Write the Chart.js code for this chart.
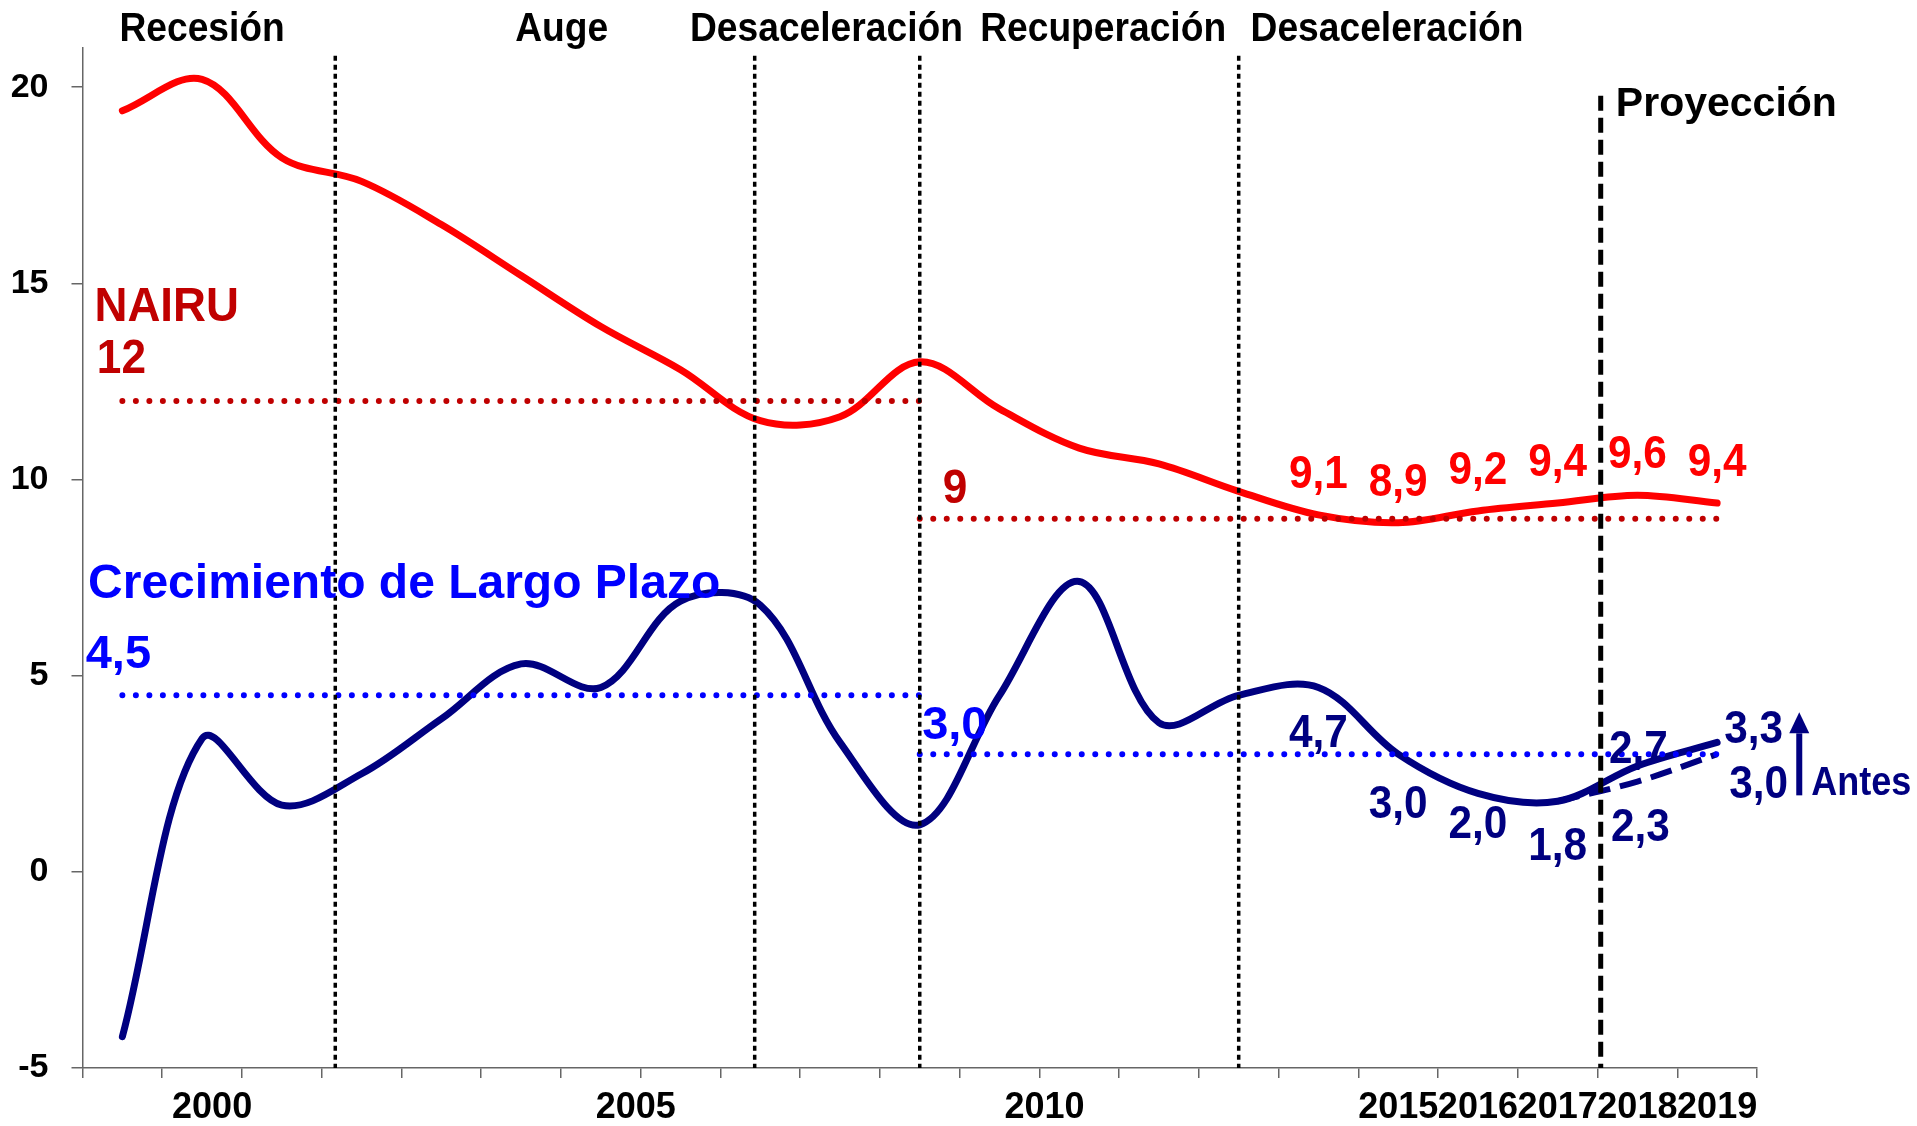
<!DOCTYPE html>
<html>
<head>
<meta charset="utf-8">
<script src="https://cdn.jsdelivr.net/npm/chart.js@4/dist/chart.umd.min.js"></script>
<style>
  html, body { margin: 0; padding: 0; background: #fff; }
  #wrap { width: 1917px; height: 1126px; position: relative; }
</style>
</head>
<body>
<div id="wrap"><canvas id="chart"></canvas></div>
<script>
// Data
const years = ['1999','2000','2001','2002','2003','2004','2005','2006','2007','2008','2009',
               '2010','2011','2012','2013','2014','2015','2016','2017','2018','2019'];
const shownYears = ['2000','2005','2010','2015','2016','2017','2018','2019'];
const nairu  = [19.4, 20.2, 18.2, 17.6, 16.5, 15.2, 13.9, 12.8, 11.5, 11.6, 13.0,
                11.8, 10.8, 10.4, 9.7, 9.1, 8.9, 9.2, 9.4, 9.6, 9.4];
const growth = [-4.2, 3.4, 1.7, 2.5, 3.9, 5.3, 4.7, 6.9, 6.8, 3.3, 1.2,
                4.5, 7.4, 3.8, 4.5, 4.7, 3.0, 2.0, 1.8, 2.7, 3.3];
const beforeYears = ['2017', '2018', '2019'];
const growthBefore = [1.8, 2.3, 3.0];
// period averages: [from, to, value]
const nairuAvg  = [['1999', '2009', 12], ['2009', '2019', 9]];
const growthAvg = [['1999', '2009', 4.5], ['2009', '2019', 3.0]];
const yTicks = [-5, 0, 5, 10, 15, 20];
const labeledFrom = 15; // data labels from 2014 on

// Annotations (layout, in year / value units)
const phases = [['Recesión', 2000.0], ['Auge', 2004.51], ['Desaceleración', 2007.83],
                ['Recuperación', 2011.30], ['Desaceleración', 2014.86]];
const phaseBreaks = [2001.67, 2006.93, 2009.0, 2013.0];
const projectionAt = 2017.54;

const FONT = "'Liberation Sans', Arial, sans-serif";
const RED = '#FF0000', DARKRED = '#C00000', BLUE = '#0000FF', NAVY = '#000080';

// extra leading spaces to nudge some year labels like the original
const tickPad = { '2000': 2, '2005': 7, '2010': 9 };

// label offsets relative to the point (dx, baseline dy, align)
const nairuLabelPos = { dx: 0, dy: -27, align: 'center' };
const growthLabelPos = [
  { dx: 0, dy: 60, align: 'center' },
  { dx: 0, dy: 64, align: 'center' },
  { dx: 0, dy: 45, align: 'center' },
  { dx: 0, dy: 59, align: 'center' },
  { dx: 1, dy: -3, align: 'center' },
  { dx: 7, dy: 1, align: 'left' }
];
const beforeLabelPos = [null, { dx: 3, dy: 59, align: 'center' }, { dx: 12, dy: 44, align: 'left' }];

function fmt(v) { return v.toFixed(1).replace('.', ','); }

function avgDataset(seg, color) {
  return {
    data: [{ x: seg[0], y: seg[2] }, { x: seg[1], y: seg[2] }],
    borderColor: color,
    borderWidth: 6,
    borderDash: [0, 13.5],
    borderCapStyle: 'round',
    pointRadius: 0,
    tension: 0
  };
}

const overlay = {
  id: 'overlay',
  afterDatasetsDraw(chart) {
    const { ctx, scales: { x, y } } = chart;
    const px = yr => x.getPixelForValue(yr - 1999);
    ctx.save();

    // phase separators
    ctx.strokeStyle = '#000';
    ctx.lineWidth = 3.5;
    ctx.setLineDash([5, 4]);
    phaseBreaks.forEach(b => {
      ctx.beginPath();
      ctx.moveTo(px(b), y.getPixelForValue(20.8));
      ctx.lineTo(px(b), y.bottom);
      ctx.stroke();
    });
    // projection line
    ctx.lineWidth = 5;
    ctx.setLineDash([15, 7]);
    ctx.beginPath();
    ctx.moveTo(px(projectionAt), y.getPixelForValue(19.78));
    ctx.lineTo(px(projectionAt), y.bottom);
    ctx.stroke();
    ctx.setLineDash([]);

    // bold text, optionally squeezed horizontally (sx)
    const text = (s, xx, yy, color, size, align, sx) => {
      ctx.save();
      ctx.font = 'bold ' + size + 'px ' + FONT;
      ctx.fillStyle = color;
      ctx.textAlign = align || 'left';
      ctx.textBaseline = 'alphabetic';
      ctx.translate(xx, yy);
      ctx.scale(sx || 1, 1);
      ctx.fillText(s, 0, 0);
      ctx.restore();
    };

    // phase titles
    phases.forEach(p => text(p[0], px(p[1]), y.getPixelForValue(21.18), '#000', 40, 'center', 0.93));
    text('Proyección', px(2017.73), y.getPixelForValue(19.27), '#000', 41);

    // series titles and averages
    text('NAIRU', px(1998.65), y.getPixelForValue(14.05), DARKRED, 48, 'left', 0.95);
    text('12', px(1998.68), y.getPixelForValue(12.72), DARKRED, 48, 'left', 0.92);
    text('9', px(2009.29), y.getPixelForValue(9.41), DARKRED, 48, 'left', 0.92);
    text('Crecimiento de Largo Plazo', px(1998.57), y.getPixelForValue(6.97), BLUE, 48);
    text('4,5', px(1998.54), y.getPixelForValue(5.19), BLUE, 47);
    text('3,0', px(2009.03), y.getPixelForValue(3.38), BLUE, 47);

    // data labels
    const nMeta = chart.getDatasetMeta(5).data;
    for (let i = labeledFrom; i < nairu.length; i++) {
      const p = nMeta[i];
      text(fmt(nairu[i]), p.x + nairuLabelPos.dx, p.y + nairuLabelPos.dy, RED, 46, nairuLabelPos.align, 0.92);
    }
    const gMeta = chart.getDatasetMeta(6).data;
    for (let i = labeledFrom; i < growth.length; i++) {
      const p = gMeta[i], o = growthLabelPos[i - labeledFrom];
      text(fmt(growth[i]), p.x + o.dx, p.y + o.dy, NAVY, 46, o.align, 0.92);
    }
    const bMeta = chart.getDatasetMeta(4).data;
    growthBefore.forEach((v, i) => {
      const o = beforeLabelPos[i];
      if (!o) return;
      text(fmt(v), bMeta[i].x + o.dx, bMeta[i].y + o.dy, NAVY, 46, o.align, 0.92);
    });

    // "Antes" arrow
    const ax = px(2020.03);
    ctx.strokeStyle = NAVY;
    ctx.fillStyle = NAVY;
    ctx.lineWidth = 6;
    ctx.beginPath();
    ctx.moveTo(ax, y.getPixelForValue(1.95));
    ctx.lineTo(ax, y.getPixelForValue(3.53));
    ctx.stroke();
    ctx.beginPath();
    ctx.moveTo(ax - 10, y.getPixelForValue(3.53));
    ctx.lineTo(ax + 10, y.getPixelForValue(3.53));
    ctx.lineTo(ax, y.getPixelForValue(4.07));
    ctx.closePath();
    ctx.fill();
    text('Antes', px(2020.18), y.getPixelForValue(1.95), NAVY, 40, 'left', 0.9);

    ctx.restore();
  }
};

new Chart(document.getElementById('chart'), {
  type: 'line',
  data: {
    labels: years,
    datasets: [
      avgDataset(nairuAvg[0], DARKRED),
      avgDataset(nairuAvg[1], DARKRED),
      avgDataset(growthAvg[0], BLUE),
      avgDataset(growthAvg[1], BLUE),
      {
        data: beforeYears.map((yr, i) => ({ x: yr, y: growthBefore[i] })),
        borderColor: NAVY,
        borderWidth: 6,
        borderDash: [22, 10],
        pointRadius: 0,
        tension: 0.35
      },
      {
        data: nairu,
        borderColor: RED,
        borderWidth: 7,
        borderCapStyle: 'round',
        pointRadius: 0,
        tension: 0.35
      },
      {
        data: growth,
        borderColor: NAVY,
        borderWidth: 7,
        borderCapStyle: 'round',
        pointRadius: 0,
        tension: 0.35
      }
    ]
  },
  options: {
    responsive: true,
    maintainAspectRatio: false,
    animation: false,
    layout: { padding: { left: 0, right: 160, top: 48, bottom: 0 } },
    plugins: { legend: { display: false }, tooltip: { enabled: false } },
    scales: {
      x: {
        offset: true,
        grid: { offset: true, drawOnChartArea: false, drawTicks: true, tickLength: 10, color: '#666', lineWidth: 1.5 },
        border: { display: true, color: '#666', width: 1.5 },
        ticks: {
          autoSkip: false,
          maxRotation: 0,
          padding: 8,
          color: '#000',
          font: { family: FONT, size: 36, weight: 'bold' },
          callback: function (val, index) {
            const yr = years[index];
            if (!shownYears.includes(yr)) return '';
            return ' '.repeat(tickPad[yr] || 0) + yr;
          }
        },
        afterFit: axis => { axis.height = 58; }
      },
      y: {
        min: -5,
        max: 21,
        grid: { drawOnChartArea: false, drawTicks: true, tickLength: 11, color: '#666', lineWidth: 1.5 },
        border: { display: true, color: '#666', width: 1.5 },
        ticks: {
          padding: 23,
          color: '#000',
          font: { family: FONT, size: 34, weight: 'bold' }
        },
        afterBuildTicks: axis => { axis.ticks = yTicks.map(v => ({ value: v })); },
        afterFit: axis => { axis.width = 82.5; }
      }
    }
  },
  plugins: [overlay]
});
</script>
</body>
</html>
